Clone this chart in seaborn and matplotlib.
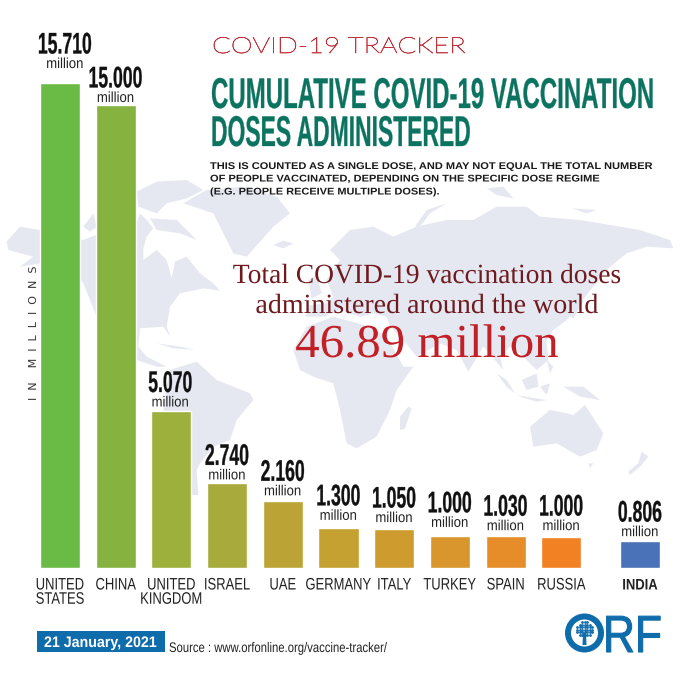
"""
plot.py
-------
COVID-19 vaccination doses by country, ORF tracker infographic.
"""

import numpy as np
import pandas as pd
import matplotlib
matplotlib.use("Agg")
import matplotlib.pyplot as plt
import seaborn as sns
from matplotlib.patches import Circle, Polygon, Rectangle
from matplotlib.patheffects import AbstractPathEffect
from matplotlib.transforms import Affine2D

# --------------------------------------------------------------------------- #
# Data
# --------------------------------------------------------------------------- #
countries = ["UNITED\nSTATES", "CHINA", "UNITED\nKINGDOM", "ISRAEL", "UAE",
             "GERMANY", "ITALY", "TURKEY", "SPAIN", "RUSSIA"]
value_labels = ["15.710", "15.000", "5.070", "2.740", "2.160",
                "1.300", "1.050", "1.000", "1.030", "1.000"]
# bar lengths as drawn in the picture, which differ a little from the printed labels
bar_heights = [15.71, 15.0, 5.07, 2.74, 2.16, 1.30, 1.26, 1.04, 1.03, 1.00]
bar_colors = ["#6ABB45", "#86B340", "#9DB03C", "#A8AB3B", "#BBA435",
              "#C5A131", "#CD9B2E", "#D8962C", "#E68D2A", "#F28123"]

india_name = ["INDIA"]
india_label = ["0.806"]
india_height = [0.87]
india_color = ["#4A72B8"]

# gap in pixels between bar top and the baseline of its "million" label
label_gaps = [15, 3, 5, 4, 6, 8, 7, 9, 6, 7]
label_shifts = [5, 0, -1, 0, 0, 0, 0, 0, 0, 0]

# --------------------------------------------------------------------------- #
# Background map outlines (3x crop coordinates, see to_left / to_right)
# --------------------------------------------------------------------------- #
map_left = [
    [(20, 215), (60, 170), (120, 180), (250, 210), (300, 190), (410, 160), (420, 130), (440, 150),
     (460, 175), (440, 200), (430, 235), (430, 270), (470, 240), (500, 270), (515, 325), (525, 275),
     (560, 260), (600, 310), (640, 340), (660, 362), (610, 355), (540, 370), (510, 410), (500, 470),
     (510, 500), (490, 470), (420, 475), (415, 530), (440, 560), (500, 590), (470, 590), (410, 570),
     (350, 520), (290, 440), (250, 340), (220, 300), (120, 280), (60, 290), (100, 260), (25, 240)],
    [(410, 65), (470, 35), (560, 30), (610, 60), (560, 85), (500, 100), (470, 130), (415, 110)],
    [(450, 145), (530, 150), (590, 210), (540, 190), (470, 180)],
    [(250, 170), (280, 130), (290, 170), (270, 185)],
    [(550, 100), (620, 60), (740, 50), (830, 80), (870, 130), (820, 170), (740, 260), (700, 250),
     (670, 190), (640, 130)],
    [(820, 225), (850, 212), (880, 220), (850, 235)],
    [(470, 520), (540, 530), (585, 540), (520, 535)],
    [(510, 600), (590, 575), (650, 630), (750, 670), (760, 690), (710, 750), (690, 810), (640, 830),
     (600, 880), (590, 900), (595, 975), (560, 975), (480, 800), (500, 650)],
    [(925, 330), (950, 315), (965, 370), (935, 385)],
]
map_right = [
    [(-140, 540), (-100, 470), (-20, 440), (90, 470), (140, 500), (190, 590), (220, 590), (170, 660),
     (150, 720), (110, 800), (50, 835), (20, 820), (0, 720), (-20, 640), (-80, 620), (-120, 600)],
    [(-105, 440), (-90, 405), (-40, 400), (-20, 380), (-40, 330), (0, 270), (-30, 240), (30, 180),
     (100, 170), (160, 200), (230, 170), (320, 150), (400, 150), (470, 110), (560, 110), (600, 140),
     (720, 150), (900, 180), (990, 210), (1000, 235), (920, 230), (860, 250), (810, 290), (760, 350),
     (720, 400), (680, 450), (640, 480), (620, 510), (625, 570), (590, 600), (540, 550), (510, 530),
     (480, 560), (490, 600), (465, 570), (430, 530), (385, 605), (350, 540), (300, 520), (230, 560),
     (190, 510), (150, 470), (140, 440), (100, 430), (60, 440), (0, 420), (-50, 440)],
    [(225, 170), (260, 120), (320, 100), (270, 130), (240, 170)],
    [(440, 55), (490, 50), (520, 85), (470, 75)],
    [(695, 115), (770, 120), (740, 130)],
    [(470, 610), (500, 630), (525, 670), (500, 650)],
    [(545, 630), (590, 610), (595, 650), (560, 660)],
    [(525, 675), (620, 690), (590, 695)],
    [(600, 650), (630, 640), (620, 675)],
    [(670, 650), (730, 650), (780, 690), (720, 680)],
    [(620, 570), (640, 590), (630, 610)],
    [(690, 440), (720, 380), (730, 395), (700, 445)],
    [(570, 770), (630, 720), (680, 730), (700, 735), (735, 705), (790, 790), (770, 840), (720, 860),
     (650, 820), (580, 830)],
    [(745, 880), (760, 880), (750, 895)],
    [(905, 845), (925, 860), (900, 890), (870, 915), (865, 905), (895, 880)],
    [(205, 710), (215, 715), (195, 775), (180, 780), (180, 740)],
]


def to_left(points):
    pts = np.array(points, dtype=float)
    return np.column_stack([pts[:, 0] / 3, 170 + pts[:, 1] / 3])


def to_right(points):
    pts = np.array(points, dtype=float)
    return np.column_stack([340 + pts[:, 0] / 3, 170 + pts[:, 1] / 3])


class Tall(AbstractPathEffect):
    """Stretch a line of text upward from its baseline, to get condensed lettering."""

    def __init__(self, sy, stroke=0.0):
        super().__init__()
        self.sy, self.stroke = sy, stroke

    def draw_path(self, renderer, gc, tpath, affine, rgbFace=None):
        y0 = affine.get_matrix()[1, 2]
        trans = affine + Affine2D().translate(0, -y0).scale(1, self.sy).translate(0, y0)
        gc0 = renderer.new_gc()
        gc0.copy_properties(gc)
        if self.stroke:
            gc0.set_linewidth(self.stroke)
            gc0.set_foreground(rgbFace)
        renderer.draw_path(gc0, tpath, trans, rgbFace)
        gc0.restore()


def condense(text, sx=None, width=None, stroke=0.0):
    """Keep the letter height of `text` but narrow it by sx, or to `width` pixels."""
    if width is not None:
        sx = width / text.get_window_extent(fig.canvas.get_renderer()).width
    text.set_fontsize(text.get_fontsize() * sx)
    text.set_path_effects([Tall(1 / sx, stroke)])
    return text


# --------------------------------------------------------------------------- #
# Figure
# --------------------------------------------------------------------------- #
sns.set_theme(style="white")
plt.rcParams["font.family"] = ["Liberation Sans", "DejaVu Sans"]

PX = 0.72  # points per pixel at dpi=100
fig = plt.figure(figsize=(6.8, 6.8), dpi=100, facecolor="white")

# Page layer, in reference pixels
page = fig.add_axes([0, 0, 1, 1], zorder=0)
page.set_xlim(0, 680)
page.set_ylim(680, 0)
page.axis("off")

for outline in map_left:
    page.add_patch(Polygon(to_left(outline), closed=True, fc="#E5E8F1", ec="none"))
for outline in map_right:
    page.add_patch(Polygon(to_right(outline), closed=True, fc="#E5E8F1", ec="none"))

# Bars
px_per_unit = 30.87
step = 55.7
top_y, base_y = 60, 568
ax = fig.add_axes([32.15 / 680, (680 - base_y) / 680, 10 * step / 680, (base_y - top_y) / 680], zorder=2)
ax_india = fig.add_axes([612.15 / 680, (680 - base_y) / 680, step / 680, (base_y - top_y) / 680], zorder=2)

df = pd.DataFrame({"country": countries, "height": bar_heights})
sns.barplot(data=df, x="country", y="height", hue="country", palette=bar_colors, legend=False,
            width=0.72, saturation=1, ax=ax)
df_india = pd.DataFrame({"country": india_name, "height": india_height})
sns.barplot(data=df_india, x="country", y="height", hue="country", palette=india_color, legend=False,
            width=0.72, saturation=1, ax=ax_india)


def value_annotation(axis, i, height, text, gap, shift):
    condense(axis.annotate("million", xy=(i, height), xytext=(shift * PX, gap * PX),
                           textcoords="offset points", ha="center", va="baseline", fontsize=10.5,
                           color="#222222", annotation_clip=False), sx=0.9)
    condense(axis.annotate(text, xy=(i, height), xytext=(shift * PX, (gap + 14.5) * PX),
                           textcoords="offset points", ha="center", va="baseline", fontsize=21.5,
                           fontweight="bold", color="#111111", annotation_clip=False), sx=0.59, stroke=0.2)


for axis in (ax, ax_india):
    axis.set_ylim(0, (base_y - top_y) / px_per_unit)
    axis.patch.set_alpha(0)
    sns.despine(ax=axis, left=True, bottom=True)
    axis.set_yticks([])
    axis.set_xlabel("")
    axis.set_ylabel("")
    axis.tick_params(axis="x", length=0, pad=9)
ax.set_xlim(-0.5, 9.5)
ax_india.set_xlim(-0.5, 0.5)

for i, (h, label, gap, shift) in enumerate(zip(bar_heights, value_labels, label_gaps, label_shifts)):
    value_annotation(ax, i, h, label, gap, shift)
value_annotation(ax_india, 0, india_height[0], india_label[0], 5, 0)

for tick in ax.get_xticklabels():
    tick.set_fontsize(12)
    tick.set_color("#222222")
    tick.set_linespacing(1.25)
    condense(tick, sx=0.78)
for tick in ax_india.get_xticklabels():
    tick.set_fontsize(11)
    tick.set_fontweight("bold")
    tick.set_color("#222222")
    condense(tick, sx=0.85)

# Headings
condense(page.text(212, 53, "COVID-19 TRACKER", family="Lato", fontsize=16, fontweight="light",
                   color="#C0323A", ha="left", va="baseline"), width=254, stroke=0.45)
condense(page.text(211, 108, "CUMULATIVE COVID-19 VACCINATION", fontsize=31, fontweight="bold",
                   color="#0B7360", ha="left", va="baseline"), width=442, stroke=0.2)
condense(page.text(211, 146, "DOSES ADMINISTERED", fontsize=31, fontweight="bold",
                   color="#0B7360", ha="left", va="baseline"), width=259, stroke=0.2)

note_lines = ["THIS IS COUNTED AS A SINGLE DOSE, AND MAY NOT EQUAL THE TOTAL NUMBER",
              "OF PEOPLE VACCINATED, DEPENDING ON THE SPECIFIC DOSE REGIME",
              "(E.G. PEOPLE RECEIVE MULTIPLE DOSES)."]
for line, y, w in zip(note_lines, [169, 181.5, 194.5], [443, 389, 230]):
    condense(page.text(210, y, line, fontsize=7, fontweight="bold", color="#1A1A1A",
                       ha="left", va="baseline"), width=w)

condense(page.text(427, 283, "Total COVID-19 vaccination doses", family="Liberation Serif", fontsize=20,
                   color="#6E1A1F", ha="center", va="baseline"), width=388)
condense(page.text(427, 313, "administered around the world", family="Liberation Serif", fontsize=20,
                   color="#6E1A1F", ha="center", va="baseline"), width=343)
condense(page.text(427, 357, "46.89 million", family="Liberation Serif", fontsize=34,
                   color="#C21F26", ha="center", va="baseline"), width=264)

page.text(34, 333, "I  N    M  I  L  L  I  O  N  S", rotation=90, family="DejaVu Sans", fontsize=8,
          color="#333333", ha="center", va="center")

# Footer
page.add_patch(Rectangle((37, 631), 128, 21, fc="#0F6CAB", ec="none"))
condense(page.text(44, 647, "21 January, 2021", fontsize=11, fontweight="bold", color="white",
                   ha="left", va="baseline"), width=113)
condense(page.text(169, 652, "Source : www.orfonline.org/vaccine-tracker/", fontsize=10, color="#222222",
                   ha="left", va="baseline"), width=219)

# Logo: ring with a small tree, then the letters
logo_blue = "#0F6CAB"
page.add_patch(Circle((584.5, 633), 19.5, fc=logo_blue, ec="none"))
page.add_patch(Circle((584.5, 633), 13.5, fc="white", ec="none"))
gx, gy = np.meshgrid(np.arange(-10, 11, 2.5), np.arange(-11, 4, 2.5))
inside = (gx ** 2 + (gy + 3.5) ** 2) < 80
page.scatter(584.5 + gx[inside], 633 + gy[inside], s=4, color=logo_blue, linewidths=0)
page.add_patch(Polygon([(583, 633), (586, 633), (586.5, 645), (582.5, 645)], fc=logo_blue, ec="none"))
condense(page.text(603, 652, "RF", fontsize=37.5, color=logo_blue, ha="left", va="baseline"),
         width=59, stroke=0.8)

fig.savefig("out.png", dpi=100)
plt.close(fig)
